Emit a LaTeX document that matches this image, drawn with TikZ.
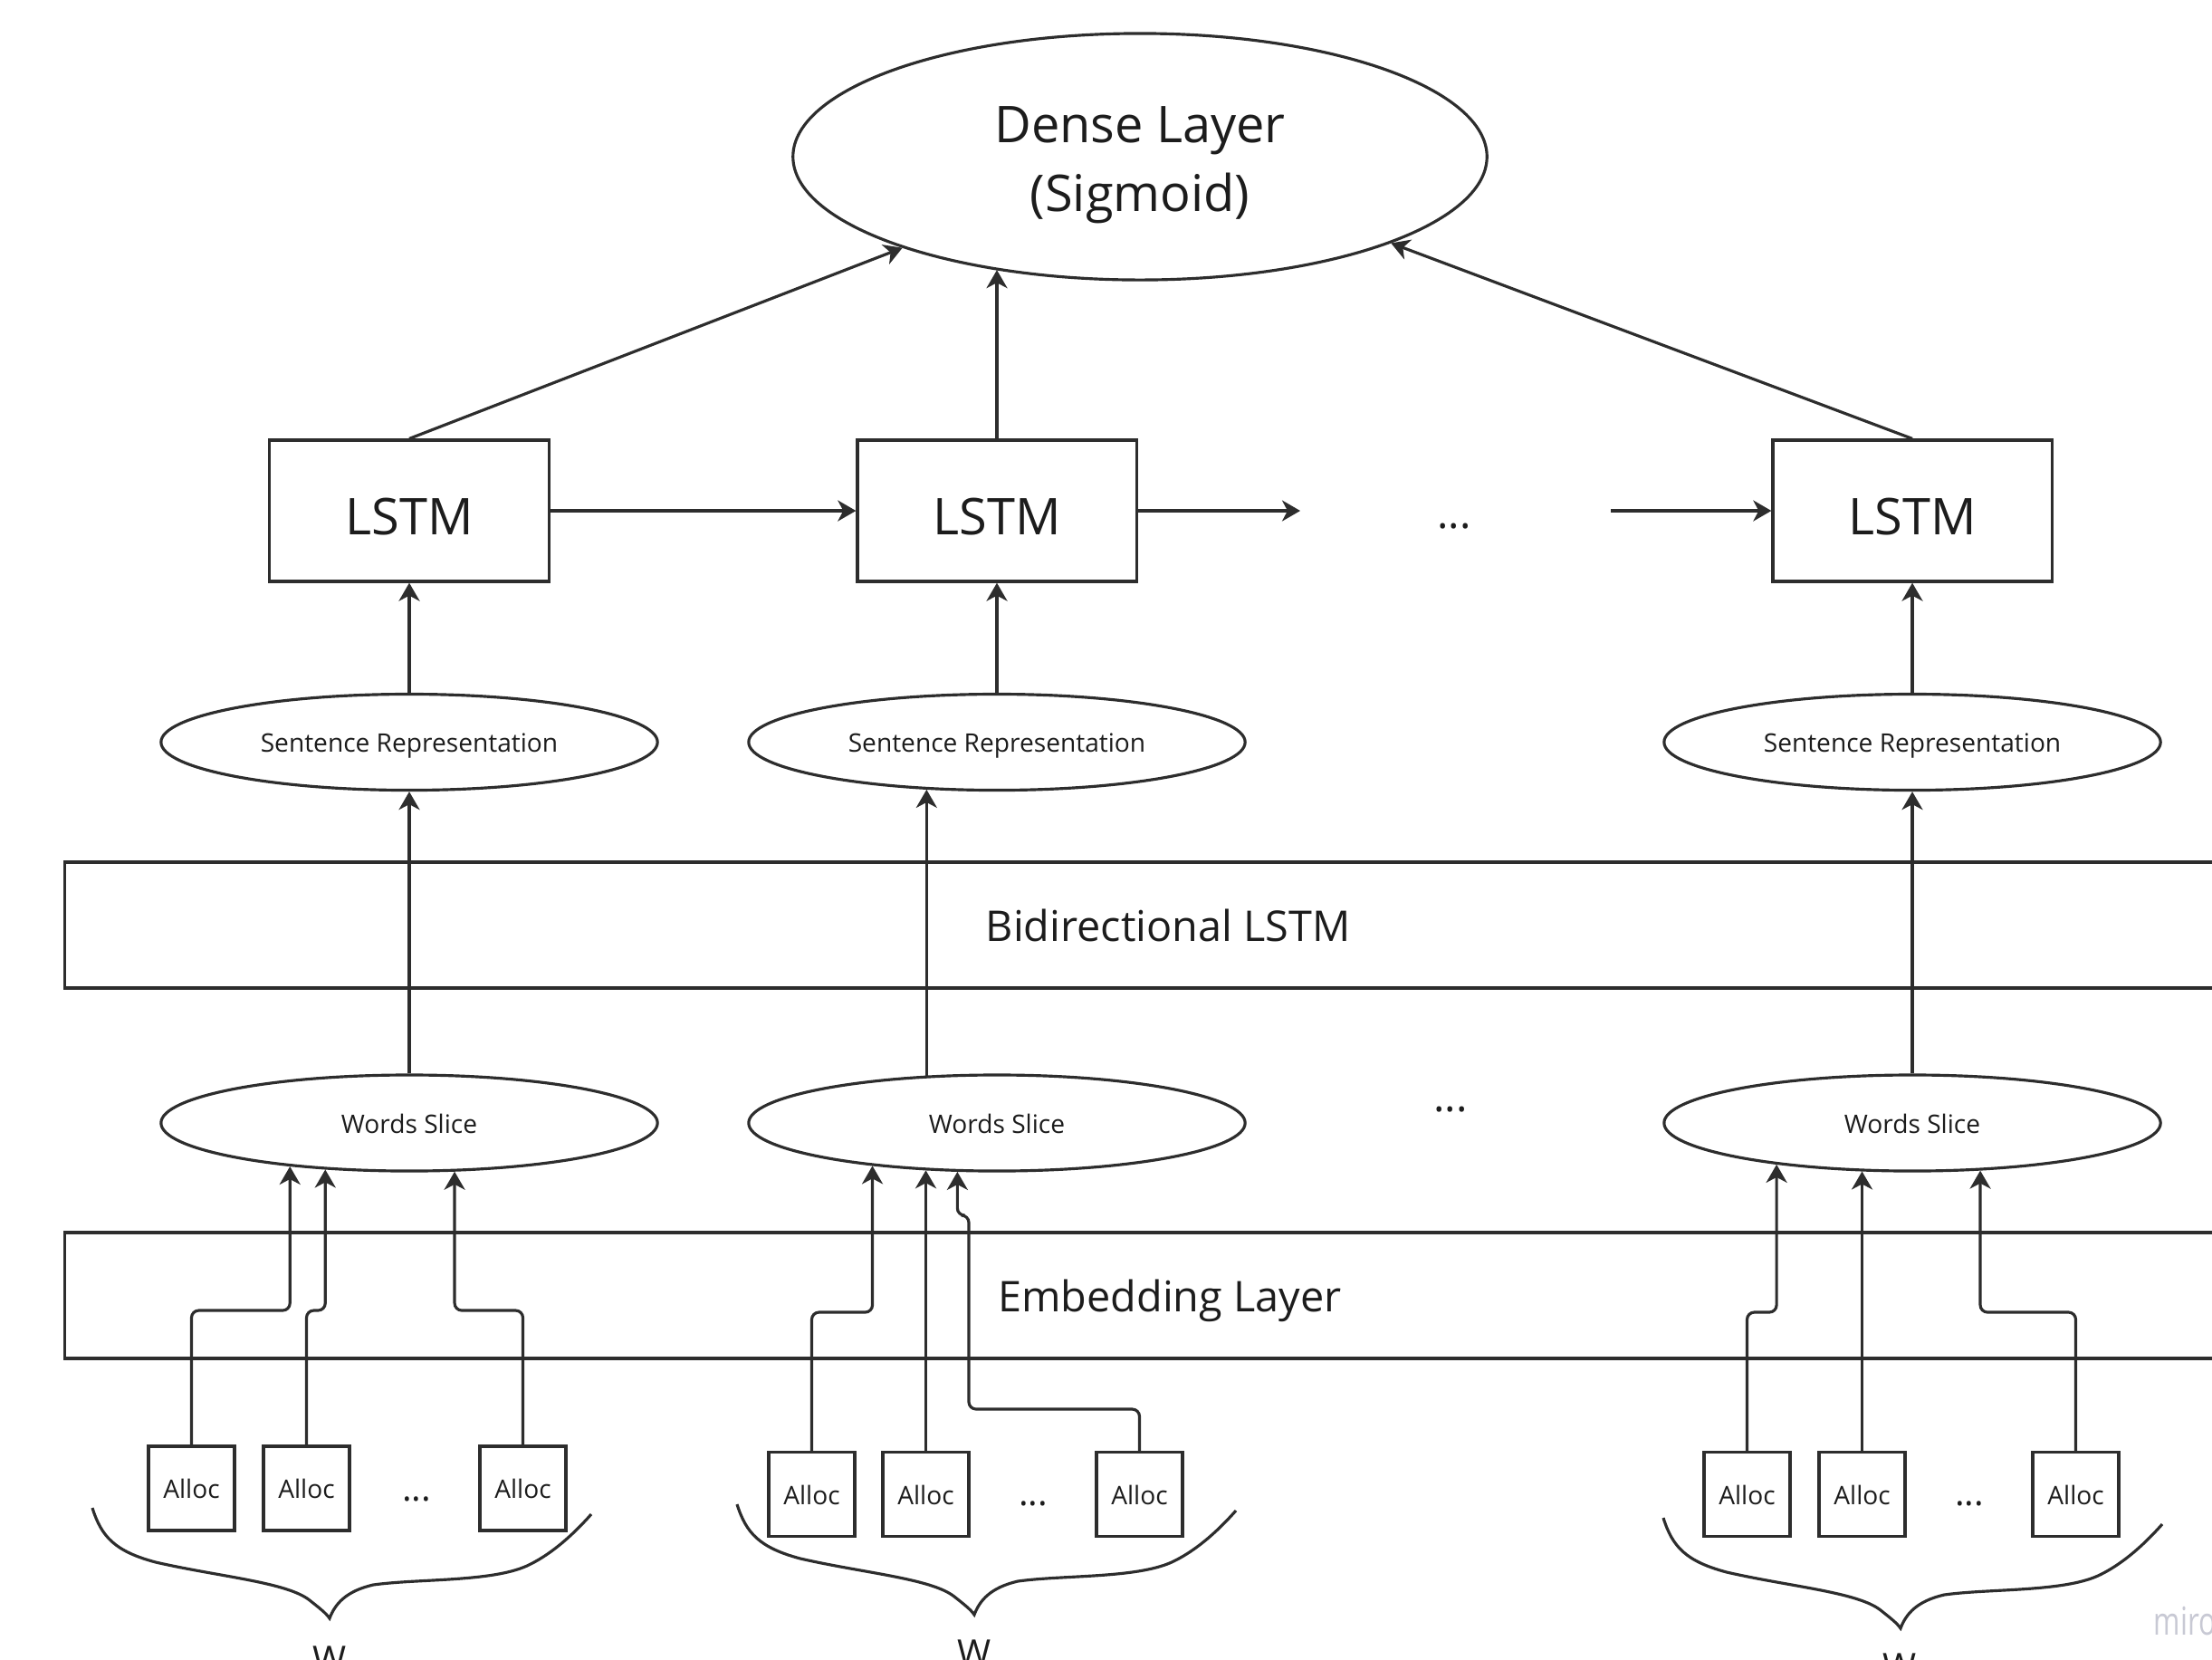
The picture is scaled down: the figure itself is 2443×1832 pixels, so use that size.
\documentclass[tikz,border=0pt]{standalone}
\usepackage{fontspec}
\setmainfont{Open Sans}
\usetikzlibrary{arrows.meta,shapes.geometric,calc}

\definecolor{ink}{RGB}{45,45,45}
\definecolor{txt}{RGB}{28,28,28}
\definecolor{wm}{RGB}{200,201,212}

\newcommand\bigtype{\fontsize{15.9pt}{21.6pt}\selectfont}
\newcommand\medtype{\fontsize{13.3pt}{16pt}\selectfont}
\newcommand\smalltype{\fontsize{8pt}{10pt}\selectfont}

\tikzset{
  every node/.append style={text=txt},
  lstmbox/.style={draw=ink, rectangle, inner sep=0pt, minimum width=3.08cm, minimum height=1.56cm,
    font=\bigtype, text height=18pt, text depth=3.2pt},
  denseoval/.style={draw=ink, ellipse, inner sep=0pt, minimum width=7.66cm, minimum height=2.72cm},
  smalloval/.style={draw=ink, ellipse, inner sep=0pt, minimum width=5.48cm, minimum height=1.06cm,
    font=\smalltype, text height=8.4pt, text depth=2pt},
  layerbar/.style={draw=ink, rectangle, inner sep=0pt, minimum height=1.39cm,
    font=\medtype, text height=13.5pt, text depth=3.2pt},
  allocbox/.style={draw=ink, rectangle, inner sep=0pt, minimum width=0.95cm, minimum height=0.93cm,
    font=\smalltype, text height=8.4pt, text depth=2pt},
  plaintext/.style={inner sep=0pt, anchor=base},
  arr/.style={draw=ink, -{Stealth[length=0.2cm, width=0.23cm, inset=0.06cm]}},
  elbow/.style={arr, rounded corners=0.08cm},
  wbrace/.pic={
    \draw[ink] (0,0) .. controls (10,32) and (25,48) .. (70,60)
      .. controls (140,76) and (215,82) .. (240,102)
      .. controls (250,110) and (258,116) .. (262,122)
      .. controls (268,106) and (280,92) .. (310,85)
      .. controls (360,78) and (440,82) .. (480,64)
      .. controls (510,50) and (535,25) .. (551,7);
  }
}

\begin{document}
\begin{tikzpicture}[x=0.01cm, y=-0.01cm, line width=0.9pt]
\useasboundingbox (0,0) rectangle (2443,1832);

% output layer
\node[denseoval] (dense) at (1259,173) {};
\node[inner sep=0pt, align=center, font=\bigtype] (denselabel) at (1259,182) {Dense Layer\\(Sigmoid)};

% recurrent chain over sentences
\node[lstmbox] (l1) at (452,564) {LSTM};
\node[lstmbox] (l2) at (1101,564) {LSTM};
\node[lstmbox] (l3) at (2112,564) {LSTM};
\coordinate (c1) at (1436,564);
\coordinate (c2) at (1779,564);
\node[plaintext, font=\medtype] (dots1) at (1606,583) {...};

% sentence encodings
\node[smalloval] (sr1) at (452,819.5) {Sentence Representation};
\node[smalloval] (sr2) at (1101,819.5) {Sentence Representation};
\node[smalloval] (sr3) at (2112,819.5) {Sentence Representation};

\node[layerbar, minimum width=24.36cm] (bi) at (1290,1021.5) {Bidirectional LSTM};

% word slices
\node[smalloval] (ws1) at (452,1240) {Words Slice};
\node[smalloval] (ws2) at (1101,1240) {Words Slice};
\node[smalloval] (ws3) at (2112,1240) {Words Slice};
\node[plaintext, font=\medtype] (dots2) at (1602,1227) {...};

\node[layerbar, minimum width=24.40cm] (emb) at (1292,1430.5) {Embedding Layer};

% allocation inputs
\node[allocbox] (a11) at (211.5,1643.5) {Alloc};
\node[allocbox] (a12) at (338.5,1643.5) {Alloc};
\node[allocbox] (a13) at (577.5,1643.5) {Alloc};
\node[allocbox] (a21) at (896.5,1650) {Alloc};
\node[allocbox] (a22) at (1022.5,1650) {Alloc};
\node[allocbox] (a23) at (1258.5,1650) {Alloc};
\node[allocbox] (a31) at (1929.5,1650) {Alloc};
\node[allocbox] (a32) at (2056.5,1650) {Alloc};
\node[allocbox] (a33) at (2292.5,1650) {Alloc};
\node[plaintext, font=\fontsize{11.4pt}{13pt}\selectfont] (dots3) at (460,1657) {...};
\node[plaintext, font=\fontsize{11.4pt}{13pt}\selectfont] (dots4) at (1141,1662) {...};
\node[plaintext, font=\fontsize{11.4pt}{13pt}\selectfont] (dots5) at (2175,1662) {...};

% braces grouping each window
\pic at (102,1665) {wbrace};
\pic at (814,1661) {wbrace};
\pic at (1837,1676) {wbrace};
\node[plaintext, font=\fontsize{11.4pt}{13pt}\selectfont] (w1) at (364,1846) {W};
\node[plaintext, font=\fontsize{11.4pt}{13pt}\selectfont] (w2) at (1076,1839) {W};
\node[plaintext, font=\fontsize{11.4pt}{13pt}\selectfont] (w3) at (2098,1854) {W};

\node[inner sep=0pt, anchor=base west, text=wm, font=\fontsize{9pt}{11pt}\selectfont] (mark) at (2377,1805) {\scalebox{1}[1.35]{miro}};

% LSTM -> dense
\draw[arr] (l1.north) -- (dense.201);
\draw[arr] (l2.north) -- (l2.north |- dense.218);
\draw[arr] (l3.north) -- (dense.341);

% LSTM chain
\draw[arr] (l1.east) -- (l2.west);
\draw[arr] (l2.east) -- (c1);
\draw[arr] (c2) -- (l3.west);

% sentence representation -> LSTM
\draw[arr] (sr1.north) -- (l1.south);
\draw[arr] (sr2.north) -- (l2.south);
\draw[arr] (sr3.north) -- (l3.south);

% words slice -> sentence representation (through the BiLSTM)
\draw[arr] (ws1.north) -- (sr1.south);
\draw[arr] (ws2.146) -- (ws2.146 |- sr2.214);
\draw[arr] (ws3.north) -- (sr3.south);

% alloc -> words slice (through the embedding)
\draw[elbow] (a11.north) -- (a11.north |- 0,1447) -| (ws1.200);
\draw[elbow] (a12.north) -- (a12.north |- 0,1447) -| (ws1.209);
\draw[elbow] (a13.north) -- (a13.north |- 0,1447) -| (ws1.313);

\draw[elbow] (a21.north) -- (a21.north |- 0,1449) -| (ws2.199);
\draw[arr] (a22.north) -- (a22.north |- ws2.213);
\draw[elbow] (a23.north) -- (a23.north |- 0,1556) -| (1070,1342) -| (ws2.231);

\draw[elbow] (a31.north) -- (a31.north |- 0,1449) -| (ws3.197);
\draw[arr] (a32.north) -- (a32.north |- ws3.223);
\draw[elbow] (a33.north) -- (a33.north |- 0,1449) -| (ws3.325);
\end{tikzpicture}
\end{document}
